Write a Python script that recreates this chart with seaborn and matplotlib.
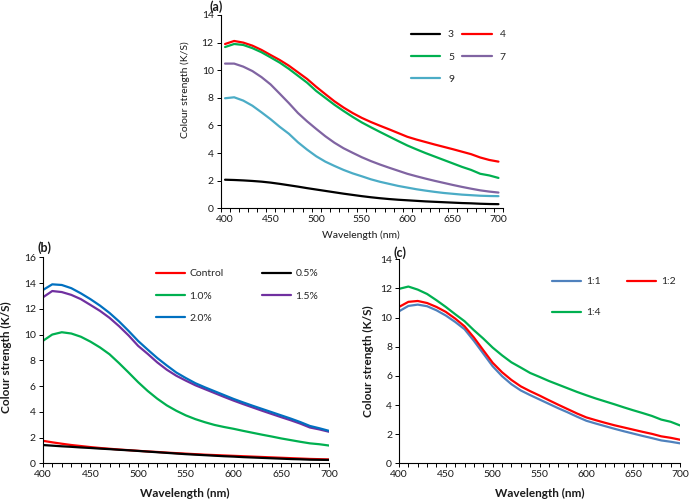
import matplotlib
matplotlib.use("Agg")
import matplotlib.pyplot as plt
import seaborn as sns
import pandas as pd
from matplotlib.ticker import MultipleLocator, FixedLocator

# ---------------- data ----------------
wavelength = list(range(400, 701, 10))

# panel (a): pH series
a_labels = ["3", "4", "5", "7", "9"]
a_3 = [2.07, 2.05, 2.02, 1.98, 1.93, 1.86, 1.77, 1.67, 1.57, 1.46, 1.36, 1.26, 1.16, 1.06, 0.97, 0.88,
       0.80, 0.73, 0.67, 0.62, 0.58, 0.54, 0.50, 0.47, 0.44, 0.41, 0.38, 0.36, 0.33, 0.31, 0.30]
a_4 = [11.90, 12.12, 12.00, 11.78, 11.47, 11.10, 10.74, 10.33, 9.85, 9.37, 8.80, 8.27, 7.75, 7.30, 6.90, 6.55,
       6.25, 5.98, 5.72, 5.45, 5.18, 4.98, 4.80, 4.62, 4.45, 4.28, 4.10, 3.92, 3.68, 3.50, 3.38]
a_5 = [11.68, 11.90, 11.83, 11.60, 11.30, 10.93, 10.55, 10.10, 9.60, 9.10, 8.50, 8.00, 7.50, 7.05, 6.62, 6.22,
       5.87, 5.53, 5.20, 4.87, 4.55, 4.27, 4.00, 3.75, 3.50, 3.25, 3.00, 2.78, 2.50, 2.38, 2.20]
a_7 = [10.48, 10.48, 10.26, 9.94, 9.50, 8.97, 8.30, 7.62, 6.90, 6.30, 5.75, 5.22, 4.75, 4.35, 4.02, 3.70,
       3.42, 3.17, 2.94, 2.72, 2.50, 2.32, 2.15, 1.99, 1.84, 1.69, 1.55, 1.42, 1.30, 1.21, 1.14]
a_9 = [7.97, 8.04, 7.80, 7.43, 6.95, 6.45, 5.90, 5.40, 4.78, 4.25, 3.77, 3.38, 3.07, 2.78, 2.53, 2.32,
       2.10, 1.92, 1.77, 1.62, 1.50, 1.38, 1.28, 1.19, 1.11, 1.05, 0.99, 0.95, 0.91, 0.89, 0.88]

# panel (b): concentration series
b_labels = ["Control", "0.5%", "1.0%", "1.5%", "2.0%"]
b_control = [1.75, 1.63, 1.52, 1.42, 1.34, 1.26, 1.19, 1.13, 1.07, 1.02, 0.97, 0.92, 0.88, 0.83, 0.79, 0.75,
             0.71, 0.67, 0.64, 0.61, 0.58, 0.55, 0.52, 0.49, 0.46, 0.43, 0.40, 0.37, 0.34, 0.32, 0.30]
b_05 = [1.42, 1.37, 1.32, 1.28, 1.23, 1.19, 1.14, 1.10, 1.05, 1.01, 0.96, 0.91, 0.86, 0.81, 0.76, 0.71,
        0.67, 0.63, 0.59, 0.55, 0.52, 0.48, 0.45, 0.42, 0.39, 0.36, 0.33, 0.31, 0.28, 0.27, 0.26]
b_10 = [9.50, 10.00, 10.18, 10.08, 9.83, 9.45, 9.00, 8.47, 7.78, 7.05, 6.30, 5.62, 5.02, 4.50, 4.08, 3.72,
        3.43, 3.19, 2.98, 2.82, 2.68, 2.52, 2.37, 2.22, 2.08, 1.93, 1.80, 1.67, 1.55, 1.48, 1.38]
b_15 = [12.88, 13.38, 13.30, 13.08, 12.75, 12.30, 11.84, 11.30, 10.65, 9.93, 9.12, 8.50, 7.84, 7.27, 6.80, 6.42,
        6.06, 5.76, 5.46, 5.16, 4.87, 4.60, 4.34, 4.08, 3.83, 3.58, 3.34, 3.08, 2.78, 2.63, 2.45]
b_20 = [13.45, 13.90, 13.85, 13.60, 13.20, 12.75, 12.25, 11.68, 11.02, 10.28, 9.50, 8.83, 8.18, 7.60, 7.05, 6.62,
        6.22, 5.90, 5.60, 5.30, 5.00, 4.73, 4.47, 4.22, 3.97, 3.72, 3.47, 3.20, 2.90, 2.72, 2.52]

# panel (c): ratio series
c_labels = ["1:1", "1:2", "1:4"]
c_11 = [10.43, 10.80, 10.89, 10.78, 10.50, 10.14, 9.70, 9.20, 8.40, 7.53, 6.66, 5.98, 5.43, 5.00, 4.68, 4.38,
        4.08, 3.78, 3.50, 3.20, 2.92, 2.73, 2.55, 2.37, 2.20, 2.04, 1.88, 1.73, 1.57, 1.48, 1.37]
c_12 = [10.73, 11.08, 11.14, 11.00, 10.73, 10.39, 9.93, 9.40, 8.63, 7.76, 6.90, 6.25, 5.72, 5.28, 4.95, 4.65,
        4.33, 4.02, 3.72, 3.42, 3.15, 2.96, 2.78, 2.61, 2.46, 2.31, 2.16, 2.02, 1.85, 1.75, 1.62]
c_14 = [11.97, 12.13, 11.92, 11.62, 11.19, 10.73, 10.23, 9.75, 9.13, 8.56, 7.94, 7.41, 6.93, 6.57, 6.20, 5.93,
        5.65, 5.40, 5.15, 4.90, 4.67, 4.45, 4.25, 4.05, 3.84, 3.64, 3.45, 3.25, 3.00, 2.85, 2.60]

# ---------------- style ----------------
sns.set_theme(style="ticks")
plt.rcParams['font.family'] = ['Lato', 'DejaVu Sans']
TXT = '#1a1a1a'
TICK_FS = 7.5

W, H = 690, 503
fig = plt.figure(figsize=(W / 100, H / 100), dpi=100)


def px_axes(left, top, right, bottom):
    return fig.add_axes([left / W, 1 - bottom / H, (right - left) / W, (bottom - top) / H])


def draw(ax, series, labels, colors):
    lines = []
    for vals, lab, col in zip(series, labels, colors):
        df = pd.DataFrame({"wl": wavelength, "ks": vals})
        n0 = len(ax.lines)
        sns.lineplot(data=df, x="wl", y="ks", color=col, linewidth=1.6, ax=ax, legend=False)
        ln = ax.lines[n0]
        ln.set_label(lab)
        lines.append(ln)
    return lines


def style_axes(ax):
    sns.despine(ax=ax)
    for s in ("left", "bottom"):
        ax.spines[s].set_color('black')
        ax.spines[s].set_linewidth(0.8)
    ax.tick_params(axis='both', which='both', direction='out', length=3, width=0.7,
                   color='black', labelsize=TICK_FS, labelcolor=TXT, pad=2)
    ax.set_xlabel("")
    ax.set_ylabel("")


# ---------------- panel (a) ----------------
ax_a = px_axes(220.5, 15, 503, 208.3)
la = draw(ax_a, [a_3, a_4, a_5, a_7, a_9], a_labels,
          ['#000000', '#ff0000', '#00b050', '#8064a2', '#4bacc6'])
style_axes(ax_a)
ax_a.set_xlim(395, 705)
ax_a.set_ylim(0, 14)
ax_a.yaxis.set_major_locator(MultipleLocator(2))
ax_a.xaxis.set_major_locator(FixedLocator(list(range(400, 701, 50))))
ax_a.xaxis.set_minor_locator(FixedLocator(list(range(395, 706, 10))))
ax_a.tick_params(axis='x', which='major', length=0, pad=5)
fig.text(185 / W, 1 - 90 / H, "Colour strength (K/S)", rotation=90, ha='center', va='center',
         fontsize=7.5, color=TXT)
fig.text(361 / W, 1 - 235 / H, "Wavelength (nm)", ha='center', va='center', fontsize=7.5, color=TXT)
fig.text(216 / W, 1 - 7 / H, "(a)", ha='center', va='center', fontsize=9, fontweight='bold', color=TXT)
ax_a.legend(handles=[la[0], la[2], la[4], la[1], la[3]], ncol=2, frameon=False,
            loc='upper left', bbox_to_anchor=(410.5 / W, 1 - 30 / H), bbox_transform=fig.transFigure,
            borderaxespad=0, borderpad=0, fontsize=7.5, handlelength=2.8, handletextpad=0.8,
            columnspacing=0.8, labelspacing=1.25)

# ---------------- panel (b) ----------------
ax_b = px_axes(42.7, 257.3, 329, 463.3)
lb = draw(ax_b, [b_control, b_05, b_10, b_15, b_20], b_labels,
          ['#ff0000', '#000000', '#00b050', '#7030a0', '#0070c0'])
style_axes(ax_b)
ax_b.set_xlim(400, 700)
ax_b.set_ylim(0, 16)
ax_b.yaxis.set_major_locator(MultipleLocator(2))
ax_b.xaxis.set_major_locator(MultipleLocator(50))
ax_b.xaxis.set_minor_locator(MultipleLocator(10))
fig.text(6 / W, 1 - 357 / H, "Colour strength (K/S)", rotation=90, ha='center', va='center',
         fontsize=8.5, fontweight='bold', color=TXT)
fig.text(185 / W, 1 - 493 / H, "Wavelength (nm)", ha='center', va='center', fontsize=8.5,
         fontweight='bold', color=TXT)
fig.text(45 / W, 1 - 248 / H, "(b)", ha='center', va='center', fontsize=9, fontweight='bold', color=TXT)
ax_b.legend(handles=[lb[0], lb[2], lb[4], lb[1], lb[3]], ncol=2, frameon=False,
            loc='upper left', bbox_to_anchor=(156 / W, 1 - 269 / H), bbox_transform=fig.transFigure,
            borderaxespad=0, borderpad=0, fontsize=7.5, handlelength=2.8, handletextpad=0.4,
            columnspacing=3.7, labelspacing=1.25)

# ---------------- panel (c) ----------------
ax_c = px_axes(399, 259.3, 680, 463.3)
lc = draw(ax_c, [c_11, c_12, c_14], c_labels, ['#4f81bd', '#ff0000', '#00b050'])
style_axes(ax_c)
ax_c.set_xlim(400, 700)
ax_c.set_ylim(0, 14)
ax_c.yaxis.set_major_locator(MultipleLocator(2))
ax_c.xaxis.set_major_locator(MultipleLocator(50))
ax_c.xaxis.set_minor_locator(MultipleLocator(10))
fig.text(368 / W, 1 - 361 / H, "Colour strength (K/S)", rotation=90, ha='center', va='center',
         fontsize=8.5, fontweight='bold', color=TXT)
fig.text(540 / W, 1 - 493 / H, "Wavelength (nm)", ha='center', va='center', fontsize=8.5,
         fontweight='bold', color=TXT)
fig.text(400 / W, 1 - 253 / H, "(c)", ha='center', va='center', fontsize=9, fontweight='bold', color=TXT)
ax_c.legend(handles=[lc[0], lc[2], lc[1]], ncol=2, frameon=False,
            loc='upper left', bbox_to_anchor=(552 / W, 1 - 277 / H), bbox_transform=fig.transFigure,
            borderaxespad=0, borderpad=0, fontsize=7.5, handlelength=2.8, handletextpad=0.5,
            columnspacing=2.5, labelspacing=2.1)

fig.savefig("out.png", dpi=100)
